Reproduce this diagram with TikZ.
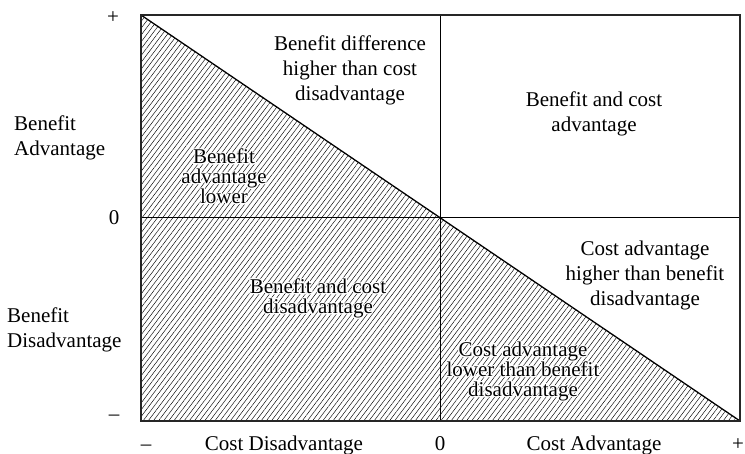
\documentclass[tikz,border=0pt]{standalone}
\usepackage{fontspec}
\setmainfont{Liberation Serif}
\usetikzlibrary{patterns.meta}
% white halo behind text that sits on the hatching:
% a white stroked copy of the glyphs, then the normal text on top
\newcommand{\halotext}[1]{\leavevmode\rlap{\special{pdf:literal direct 1 Tr 2.4 w 1 G 1 j 1 J}#1\special{pdf:literal direct 0 Tr 0 G}}#1}
\begin{document}
\begin{tikzpicture}[x=1pt,y=-1pt,
  lbl/.style={font=\fontsize{21}{25}\selectfont, inner sep=0pt, align=center},
  tight/.style={font=\fontsize{21}{20}\selectfont, inner sep=0pt, align=center},
  side/.style={font=\fontsize{21}{25}\selectfont, inner sep=0pt, align=left, anchor=west},
  tick/.style={font=\fontsize{21}{25}\selectfont, inner sep=0pt},
  frame/.style={line width=1.3pt, draw=black!85},
  axis/.style={line width=0.9pt},
  diag/.style={line width=1.3pt},
  hatch/.style={pattern={Lines[angle=53,distance=4.1pt,line width=0.45pt]}}]
\useasboundingbox (0,0) rectangle (745,454);

% corners and axis ends
\coordinate (tl) at (141,15);
\coordinate (tr) at (740,15);
\coordinate (bl) at (141,421);
\coordinate (br) at (740,421);
\coordinate (mt) at (440,15);
\coordinate (mb) at (440,421);
\coordinate (ml) at (141,217);
\coordinate (mr) at (740,217);

% hatched triangle below the diagonal
\fill[hatch] (tl) -- (bl) -- (br) -- cycle;

% zero axes
\draw[axis] (mt) -- (mb);
\draw[axis] (ml) -- (mr);

% break-even diagonal
\draw[diag] (tl) -- (br);

% outer frame
\draw[frame] (tl) rectangle (br);

% region texts
\node[lbl] (q1) at (350,70) {Benefit difference\\higher than cost\\disadvantage};
\node[lbl] (q2) at (594,114) {Benefit and cost\\advantage};
\node[tight] (q3) at (224,176) {\halotext{Benefit}\\\halotext{advantage}\\\halotext{lower}};
\node[tight] (q4) at (318,298) {\halotext{Benefit and cost}\\\halotext{disadvantage}};
\node[lbl] (q5) at (645,275) {Cost advantage\\higher than benefit\\disadvantage};
\node[tight] (q6) at (523,371) {\halotext{Cost advantage}\\\halotext{lower than benefit}\\\halotext{disadvantage}};

% vertical axis labels
\node[side] (ya) at (14,138) {Benefit\\Advantage};
\node[side] (yd) at (7,330) {Benefit\\Disadvantage};
\node[tick] (yp) at (113,18) {+};
\node[tick] (y0) at (114,218) {0};
\node[tick] (ym) at (114,418) {–};

% horizontal axis labels
\node[tick, anchor=base] (xm) at (146,451) {–};
\node[tick, anchor=base] (xd) at (284,451) {Cost Disadvantage};
\node[tick, anchor=base] (x0) at (440,451) {0};
\node[tick, anchor=base] (xa) at (594,451) {Cost Advantage};
\node[tick, anchor=base] (xp) at (738,451) {+};
\end{tikzpicture}
\end{document}
